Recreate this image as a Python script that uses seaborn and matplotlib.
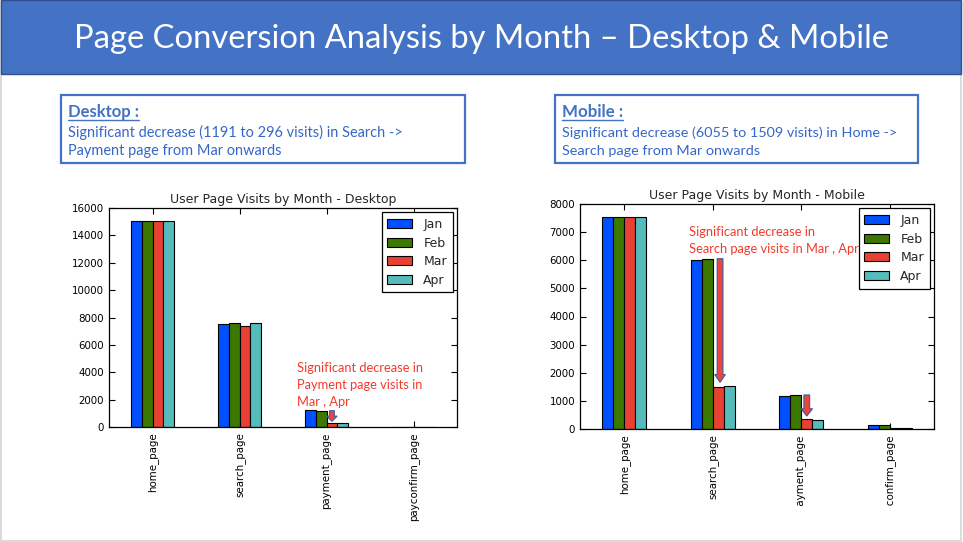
import matplotlib
matplotlib.use("Agg")
import matplotlib.pyplot as plt
import seaborn as sns
import pandas as pd
from matplotlib.patches import Rectangle
from matplotlib.lines import Line2D
from matplotlib.transforms import Bbox, TransformedBbox

# ---- data ----
months = ["Jan", "Feb", "Mar", "Apr"]
desktop_pages = ["home_page", "search_page", "payment_page", "payconfirm_page"]
mobile_pages = ["home_page", "search_page", "payment_page", "payconfirm_page"]

desktop_home = [15030, 15030, 15030, 15030]
desktop_search = [7530, 7620, 7380, 7580]
desktop_payment = [1220, 1191, 296, 300]
desktop_confirm = [35, 30, 6, 25]

mobile_home = [7540, 7540, 7540, 7540]
mobile_search = [6010, 6055, 1509, 1515]
mobile_payment = [1160, 1210, 340, 310]
mobile_confirm = [140, 140, 22, 22]

month_colors = ["#0050FF", "#3C7800", "#E84032", "#55BBBB"]

W, H = 963, 542
FONT = "Lato"


def px(x, y):
    return x / W, 1 - y / H


def to_long(pages, series):
    rows = []
    for page, vals in zip(pages, series):
        for m, v in zip(months, vals):
            rows.append({"page": page, "month": m, "visits": v})
    return pd.DataFrame(rows)


df_desktop = to_long(desktop_pages, [desktop_home, desktop_search, desktop_payment, desktop_confirm])
df_mobile = to_long(mobile_pages, [mobile_home, mobile_search, mobile_payment, mobile_confirm])

sns.set_style("white")
plt.rcParams["font.family"] = ["DejaVu Sans"]

fig = plt.figure(figsize=(W / 100, H / 100), dpi=100)
fig.patch.set_facecolor("white")
renderer = fig.canvas.get_renderer()


def fit_width(t, target_px):
    w = t.get_window_extent(renderer).width
    t.set_fontsize(t.get_fontsize() * target_px / w)
    return t.get_fontsize()


# slide frame and title banner
fig.patches.append(Rectangle(px(0.5, 540.5), 960 / W, 540 / H, transform=fig.transFigure,
                             facecolor="none", edgecolor="#D4D4D4", lw=1.2, zorder=0))
fig.patches.append(Rectangle(px(0.5, 74), 960 / W, 74 / H, transform=fig.transFigure,
                             facecolor="#4472C4", edgecolor="#2F528F", lw=1.0, zorder=1))
title = fig.text(*px(481, 48), "Page Conversion Analysis by Month \u2013 Desktop & Mobile",
                 ha="center", va="baseline", color="white", family=FONT, fontsize=22)
fit_width(title, 813)

# note boxes: left edge, box width, heading, body lines, heading width
notes = [
    (61, 404, "Desktop :", ["Significant decrease (1191 to 296 visits) in Search ->",
                            "Payment page from Mar onwards"], 71),
    (555, 363, "Mobile :", ["Significant decrease (6055 to 1509 visits) in Home ->",
                            "Search page from Mar onwards"], 61),
]
for x0, bw, head, lines, head_w in notes:
    fig.patches.append(Rectangle(px(x0, 163), bw / W, 68 / H, transform=fig.transFigure,
                                 facecolor="white", edgecolor="#4472C4", lw=1.6, zorder=1))
    h = fig.text(*px(x0 + 7, 117), head, ha="left", va="baseline", color="#4472C4",
                 family=FONT, fontweight="bold", fontsize=11)
    fit_width(h, head_w)
    bb = h.get_window_extent(renderer)
    fig.lines.append(Line2D([bb.x0 / W, bb.x1 / W], [px(0, 120)[1]] * 2,
                            transform=fig.transFigure, color="#4472C4", lw=1.0))
    t1 = fig.text(*px(x0 + 7, 137), lines[0], ha="left", va="baseline", color="#3467C8",
                  family=FONT, fontsize=10)
    fs = fit_width(t1, 335)
    fig.text(*px(x0 + 7, 155), lines[1], ha="left", va="baseline", color="#3467C8",
             family=FONT, fontsize=fs)


def draw_chart(ax, df, pages, title_txt, ymax, ystep):
    sns.barplot(data=df, x="page", y="visits", hue="month", order=pages, hue_order=months,
                palette=month_colors, width=0.5, saturation=1, edgecolor="black",
                linewidth=0.8, errorbar=None, ax=ax)
    ax.set_xlim(-0.5, len(pages) - 0.5)
    ax.set_ylim(0, ymax)
    ax.set_yticks(range(0, ymax + 1, ystep))
    ax.set_xlabel("")
    ax.set_ylabel("")
    ax.set_title(title_txt, fontsize=9, pad=3.5)
    ax.tick_params(direction="in", length=4, width=0.8, labelsize=7.4, top=True, right=True,
                   bottom=True, left=True, colors="black")
    ax.tick_params(axis="x", labelrotation=90, pad=4)
    for s in ax.spines.values():
        s.set_visible(True)
        s.set_color("black")
        s.set_linewidth(0.9)
    handles, labels = ax.get_legend_handles_labels()
    leg = ax.legend(handles, labels, loc="upper right", fontsize=9, frameon=True,
                    fancybox=False, edgecolor="black", framealpha=1, handlelength=2.0,
                    handleheight=0.75, borderaxespad=0.35, labelspacing=0.45,
                    handletextpad=0.9, borderpad=0.45)
    leg.get_frame().set_linewidth(0.9)
    leg.set_zorder(10)
    return ax


ax_d = fig.add_axes([109 / W, (H - 427) / H, 348 / W, 219 / H])
draw_chart(ax_d, df_desktop, desktop_pages, "User Page Visits by Month - Desktop", 16000, 2000)

ax_m = fig.add_axes([580 / W, (H - 429) / H, 354 / W, 225 / H])
draw_chart(ax_m, df_mobile, mobile_pages, "User Page Visits by Month - Mobile", 8000, 1000)

# the mobile picture was cropped at its bottom edge on the slide
clip = TransformedBbox(Bbox.from_extents(0, (H - 506) / H, 1, 1), fig.transFigure)
for lab in ax_m.get_xticklabels():
    lab.set_clip_on(True)
    lab.set_clip_box(clip)

# red call-outs
red = "#F23A2C"
d_lines = ["Significant decrease in", "Payment page visits in", "Mar , Apr"]
t = ax_d.text(*px(297, 372), d_lines[0], transform=fig.transFigure, color=red, family=FONT,
              fontsize=9, ha="left", va="baseline", zorder=3)
rfs = fit_width(t, 127)
for i, line in enumerate(d_lines[1:], start=1):
    ax_d.text(*px(297, 372 + 17 * i), line, transform=fig.transFigure, color=red, family=FONT,
              fontsize=rfs, ha="left", va="baseline", zorder=3)

m_lines = ["Significant decrease in", "Search page visits in Mar , Apr"]
for i, line in enumerate(m_lines):
    ax_m.text(*px(689, 236 + 16.5 * i), line, transform=fig.transFigure, color=red, family=FONT,
              fontsize=rfs, ha="left", va="baseline", zorder=3)

arrow_kw = dict(length_includes_head=True, facecolor="#E8473A", edgecolor="#3A5BA8",
                linewidth=0.8, zorder=4)
mar_off = 0.0625
ax_d.arrow(2 + mar_off, desktop_payment[1], 0, desktop_payment[2] + 120 - desktop_payment[1],
           width=0.055, head_width=0.12, head_length=380, **arrow_kw)
ax_m.arrow(1 + mar_off + 0.02, mobile_search[1], 0, mobile_search[2] + 150 - mobile_search[1],
           width=0.065, head_width=0.12, head_length=280, **arrow_kw)
ax_m.arrow(2 + mar_off, mobile_payment[1], 0, mobile_payment[2] + 120 - mobile_payment[1],
           width=0.065, head_width=0.13, head_length=260, **arrow_kw)

fig.savefig("out.png", dpi=100)
